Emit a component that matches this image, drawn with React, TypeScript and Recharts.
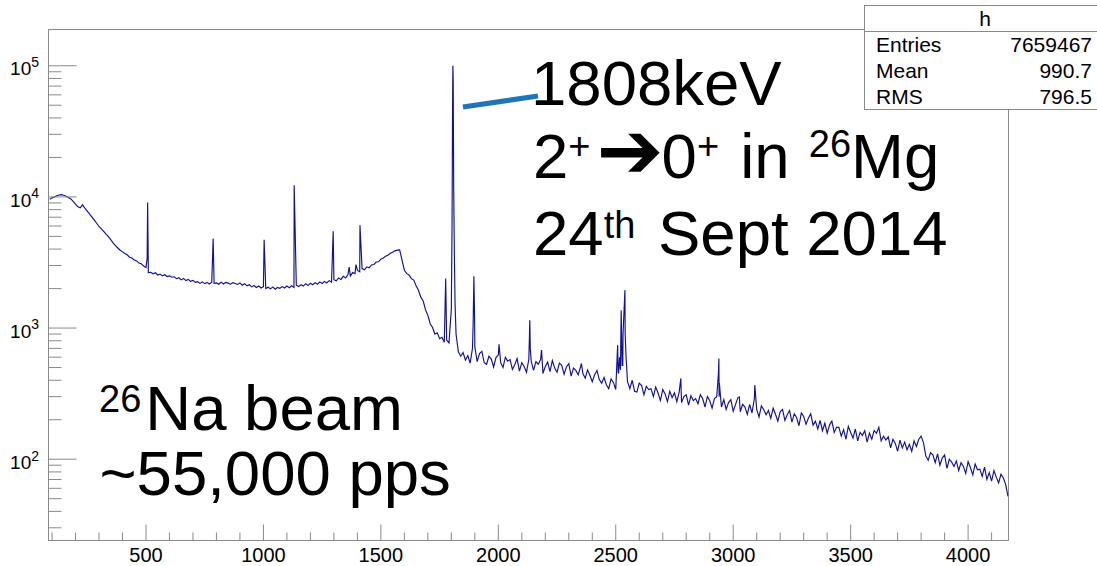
import { LineChart, Line, XAxis, YAxis, ReferenceArea } from "recharts";

const FONT = '"Liberation Sans", Arial, Helvetica, sans-serif';
const BIN_WIDTH = 10;

// gamma spectrum, 10 keV bins, counts per bin
const countsLow = [
  9600, 9800, 10000, 10200, 10350, 10400, 10300, 10100, 9900, 9650,
  9250, 8800, 8400, 8250, 8700, 8200, 7800, 7400, 7020, 6650,
  6300, 5950, 5700, 5450, 5200, 4980, 4720, 4460, 4250, 4080,
  3920, 3810, 3700, 3620, 3470, 3420, 3300, 3250, 3130, 3090,
  2970, 2890, 2650,
];
const countsMid = [
  2660, 2590, 2640, 2540, 2580, 2500, 2550, 2470, 2500, 2440,
  2460, 2380, 2420, 2330, 2390, 2300, 2350, 2270, 2310, 2230,
  2260, 2190, 2250, 2180, 2230, 2170, 2240, 2190, 2210, 2160,
  2240, 2170, 2230, 2200, 2160, 2220, 2190, 2150, 2210, 2120,
  2180, 2100, 2140, 2060, 2110, 2040, 2090, 2020, 2070, 2000,
  2050, 1990, 2060, 1980, 2040, 2010, 2070, 2020, 2090, 2030,
  2100, 2040, 2120, 2070, 2140, 2090, 2180, 2110, 2200, 2140,
  2220, 2160, 2250, 2190, 2270, 2210, 2300, 2240, 2340, 2290,
  2410, 2350, 2480, 2410, 2560, 2500, 2650, 2600, 2750, 2690,
  2840, 2780, 2930, 2880, 3030, 3050, 3190, 3200, 3350, 3420,
  3530, 3590, 3720, 3790, 3880, 3930, 3950, 3300,
];
const countsEdge = [
  2760, 2600, 2540, 2380, 2320, 2100, 1940, 1720, 1610, 1380,
  1250, 1080, 1010, 900, 920, 830, 850, 780, 810, 770,
  1400, 12000, 900, 660, 610,
];
const countsHigh = [
  650, 570, 615, 540, 700, 720, 555, 640, 665, 545,
  530, 610, 580, 505, 595, 625, 545, 500, 600, 560,
  575, 485, 525, 585, 470, 545, 510, 460, 580, 560,
  475, 555, 530, 575, 450, 510, 550, 465, 565, 495,
  460, 540, 520, 445, 505, 535, 430, 495, 475, 440,
  505, 450, 415, 480, 435, 390, 440, 475, 405, 380,
  420, 370, 345, 410, 385, 340, 460, 480, 520, 900,
  390, 345, 400, 330, 325, 380, 365, 310, 360, 340,
  345, 300, 355, 320, 280, 340, 315, 275, 330, 295,
  320, 275, 325, 270, 300, 310, 258, 305, 280, 290,
  265, 310, 290, 250, 300, 280, 245, 290, 300, 300,
  250, 285, 240, 270, 285, 232, 262, 295, 230, 262,
  250, 220, 262, 225, 290, 240, 210, 255, 238, 218,
  235, 205, 245, 220, 195, 230, 240, 198, 218, 235,
  192, 222, 208, 180, 225, 212, 185, 205, 222, 182,
  195, 170, 198, 165, 188, 158, 182, 195, 160, 175,
  175, 150, 168, 142, 178, 160, 145, 170, 138, 160,
  152, 165, 135, 158, 142, 165, 158, 175, 138, 150,
  140, 148, 122, 142, 132, 115, 140, 122, 135, 118,
  130, 115, 138, 125, 142, 150, 134, 106, 98, 112,
  108, 94, 110, 90, 102, 108, 85, 100, 95, 88,
  97, 82, 94, 88, 78, 96, 86, 76, 92, 83,
  84, 74, 87, 70, 79, 68, 82, 73, 66, 77,
  72, 64, 52,
];
const segments: [number, number[]][] = [
  [90, countsLow],
  [520, countsMid],
  [1600, countsEdge],
  [1850, countsHigh],
];

// photopeak tips (keV, counts)
const peakEnergies = [
  505, 507, 509, 786, 1003, 1131, 1297, 1365, 1394, 1411, 1776,
  1803, 1805, 1806.5, 1808, 1809, 1813, 1816,
  1893, 1896, 1899, 2003, 2132, 2134, 2136, 2184, 2354,
  2508, 2512, 2516, 2523, 2527, 2531, 2539, 2544,
  2777, 2937, 2939, 2941, 3026, 3092,
];
const peakCounts = [
  3400, 9060, 4200, 4810, 4710, 12250, 5470, 2920, 3050, 6080, 2390,
  6000, 40000, 100000, 75000, 30000, 3500, 1500,
  1100, 2480, 1200, 753, 800, 1148, 700, 680, 537,
  741, 450, 600, 1369, 520, 900, 1946, 600,
  413, 450, 586, 380, 299, 367,
];

const xTicks = [
  100, 200, 300, 400, 500, 600, 700, 800, 900, 1000, 1100, 1200, 1300, 1400,
  1500, 1600, 1700, 1800, 1900, 2000, 2100, 2200, 2300, 2400, 2500, 2600,
  2700, 2800, 2900, 3000, 3100, 3200, 3300, 3400, 3500, 3600, 3700, 3800,
  3900, 4000, 4100,
];
const yTicks = [
  30, 40, 50, 60, 70, 80, 90, 100, 200, 300, 400, 500, 600, 700, 800, 900,
  1000, 2000, 3000, 4000, 5000, 6000, 7000, 8000, 9000, 10000, 20000, 30000,
  40000, 50000, 60000, 70000, 80000, 90000, 100000,
];

const points: { e: number; c: number }[] = [];
segments.forEach(([start, arr]) =>
  arr.forEach((c, i) => points.push({ e: start + i * BIN_WIDTH, c }))
);
peakEnergies.forEach((e, i) => points.push({ e, c: peakCounts[i] }));
points.sort((a, b) => a.e - b.e);

const AXIS = "#8a8a8a";
const BIG = 63.5;

const XTick = (props: any) => {
  const { x, y, payload } = props;
  const major = payload.value % 500 === 0;
  return (
    <g>
      <line x1={x} x2={x} y1={y} y2={y - (major ? 16 : 8)} stroke={AXIS} />
      {major && (
        <text x={x} y={y + 21} textAnchor="middle" fontSize={20} fontFamily={FONT} fill="#000">
          {payload.value}
        </text>
      )}
    </g>
  );
};

const YTick = (props: any) => {
  const { x, y, payload } = props;
  const ex = Math.log10(payload.value);
  const major = Math.abs(ex - Math.round(ex)) < 1e-6;
  return (
    <g>
      <line x1={x} x2={x + (major ? 28 : 13)} y1={y} y2={y} stroke={AXIS} />
      {major && (
        <text x={x - 9.5} y={y + 9.7} textAnchor="end" fontSize={19} fontFamily={FONT} fill="#000">
          10<tspan fontSize={14} dy={-8.3}>{Math.round(ex)}</tspan>
        </text>
      )}
    </g>
  );
};

export default function App() {
  return (
    <div
      style={{
        position: "absolute",
        left: 0,
        top: 0,
        width: 1097,
        height: 566,
        background: "#fff",
        overflow: "hidden",
        fontFamily: FONT,
      }}
    >
      <LineChart width={1097} height={566} data={points} margin={{ top: 29.5, right: 88.5, bottom: 0, left: 0 }}>
        <XAxis
          type="number"
          dataKey="e"
          domain={[85, 4172]}
          allowDataOverflow
          ticks={xTicks}
          interval={0}
          height={25.5}
          tickSize={0}
          tickMargin={0}
          tickLine={false}
          axisLine={{ stroke: AXIS }}
          tick={XTick}
        />
        <YAxis
          scale="log"
          domain={[24, 189000]}
          allowDataOverflow
          ticks={yTicks}
          interval={0}
          width={48.5}
          tickSize={0}
          tickMargin={0}
          tickLine={false}
          axisLine={{ stroke: AXIS }}
          tick={YTick}
        />
        <ReferenceArea x1={85} x2={4172} y1={24} y2={189000} fill="none" stroke={AXIS} ifOverflow="visible" />
        <Line
          dataKey="c"
          type="linear"
          stroke="#10109a"
          strokeWidth={1.15}
          dot={false}
          activeDot={false}
          isAnimationActive={false}
        />
      </LineChart>

      <svg
        width={1097}
        height={566}
        style={{ position: "absolute", left: 0, top: 0, pointerEvents: "none", whiteSpace: "pre" }}
        fontFamily={FONT}
      >
        <line x1={463} y1={107} x2={538} y2={96} stroke="#1f75b5" strokeWidth={5} />
        <text x={531} y={105} fontSize={BIG}>1808keV</text>
        <text x={533} y={178} fontSize={BIG}>
          2<tspan fontSize={38} dy={-19}>+</tspan>
          <tspan dx={6} dy={19} fontFamily="DejaVu Sans" fontSize={80}>➔</tspan>
          <tspan dx={-2}>0</tspan>
          <tspan fontSize={38} dy={-19}>+</tspan>
          <tspan dx={3.5} dy={19}> in </tspan>
          <tspan dx={1.5} fontSize={38} dy={-21}>26</tspan>
          <tspan dy={21}>Mg</tspan>
        </text>
        <text x={533} y={255} fontSize={BIG}>
          24<tspan fontSize={38} dy={-17}>th</tspan>
          <tspan dx={5} dy={17}> Sept 2014</tspan>
        </text>
        <text x={99} y={430} fontSize={BIG}>
          <tspan fontSize={38} dy={-18.3}>26</tspan>
          <tspan dx={4} dy={18.3}>Na beam</tspan>
        </text>
        <text x={99.5} y={495} fontSize={BIG}>~55,000 pps</text>
      </svg>

      <div
        style={{
          position: "absolute",
          left: 864,
          top: 5,
          width: 250,
          height: 103,
          background: "#fff",
          border: `1px solid ${AXIS}`,
        }}
      />
      <div style={{ position: "absolute", left: 864, top: 31, width: 250, borderTop: `1px solid ${AXIS}` }} />
      <div style={{ position: "absolute", left: 960, top: 6, width: 50, textAlign: "center", fontSize: 21, lineHeight: "25px" }}>h</div>
      {[
        ["Entries", "7659467"],
        ["Mean", "990.7"],
        ["RMS", "796.5"],
      ].map(([k, v], i) => (
        <div key={k} style={{ position: "absolute", top: 32 + i * 26, left: 876, width: 216, fontSize: 21, lineHeight: "26px" }}>
          <span>{k}</span>
          <span style={{ position: "absolute", right: 0 }}>{v}</span>
        </div>
      ))}
    </div>
  );
}
